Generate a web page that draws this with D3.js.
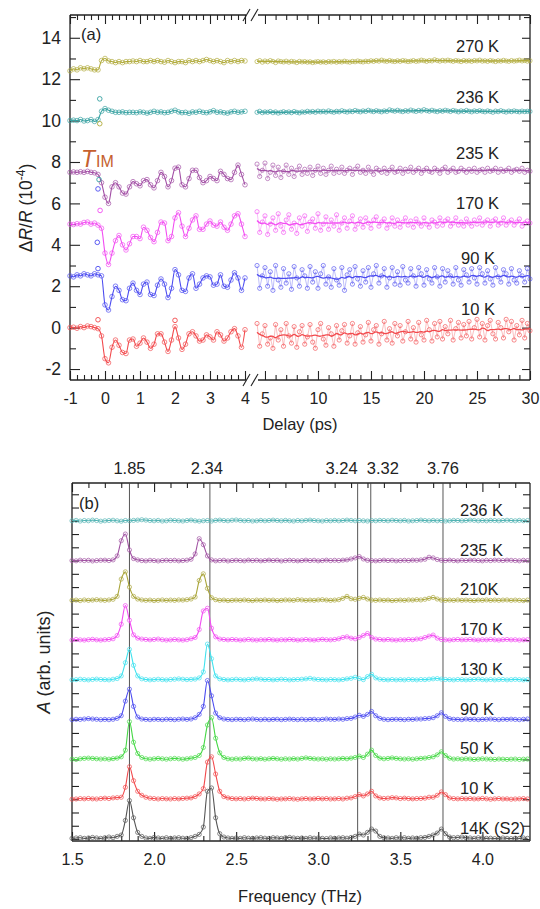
<!DOCTYPE html>
<meta charset="utf-8">
<style>
  body { margin: 0; background: #fff; }
  svg text { font-family: "Liberation Sans", Arial, sans-serif; fill: #222; }
</style>
<body>
<script src="https://cdn.jsdelivr.net/npm/d3@7"></script>
<script>

// ---------- panel (a): transient reflectivity, dR/R (1e-4) vs delay (ps) ----------
var tempsA  = ["270 K", "236 K", "235 K", "170 K", "90 K", "10 K"];
var colorsA = ["#b1ab3c", "#37a1a1", "#a24ea5", "#f24cf2", "#4b4bf0", "#f2494c"];

// early window: -1 ... 4 ps, one sample every 0.1 ps
var earlyStart = -1, earlyStep = 0.1;
var early270 = [12.4,12.5,12.45,12.55,12.5,12.55,12.5,12.45,12.45,12.9,
  13.0,12.88,12.85,12.8,12.85,12.8,12.85,12.85,12.88,12.85,
  12.9,12.85,12.85,12.9,12.85,12.9,12.85,12.82,12.9,12.85,
  12.8,12.85,12.85,12.8,12.9,12.85,12.9,12.85,12.9,12.95,
  12.9,12.85,12.9,12.85,12.8,12.9,12.85,12.9,12.85,12.9, 12.88];
var early236 = [10.0,10.02,10.0,10.05,9.98,10.0,10.05,9.96,10.05,10.45,
  10.58,10.5,10.45,10.4,10.4,10.42,10.38,10.4,10.4,10.38,
  10.42,10.4,10.36,10.4,10.45,10.4,10.42,10.38,10.4,10.45,
  10.5,10.42,10.38,10.4,10.35,10.42,10.4,10.45,10.4,10.38,
  10.42,10.48,10.4,10.42,10.38,10.36,10.42,10.45,10.4,10.42, 10.45];
var early235 = [7.5,7.52,7.5,7.53,7.5,7.55,7.5,7.48,7.4,7.0,
  6.3,6.0,6.8,7.0,6.8,6.5,6.45,6.8,7.05,6.95,
  6.85,7.1,7.15,6.9,6.75,7.1,7.5,7.3,6.8,7.1,
  7.7,7.75,6.9,6.8,7.2,7.6,7.6,7.25,7.0,7.1,
  7.3,7.2,7.1,7.55,7.4,7.2,7.15,7.5,7.85,7.4, 6.9];
var early170 = [5.0,4.98,5.02,5.0,5.08,5.1,5.0,5.05,4.95,4.8,
  3.6,3.05,3.6,4.2,4.45,4.0,3.75,4.05,4.4,4.4,
  4.3,4.85,4.7,4.35,4.15,4.6,5.1,5.05,4.2,4.4,
  5.3,5.55,4.9,4.4,4.8,5.2,5.4,4.75,4.75,5.0,
  5.15,4.95,4.9,5.1,4.85,4.7,5.0,5.4,5.5,5.0, 4.4];
var early90 = [2.5,2.45,2.55,2.5,2.6,2.55,2.5,2.6,2.55,2.5,
  1.1,0.85,1.5,2.0,1.8,1.35,1.3,1.9,2.15,1.8,
  1.6,2.1,2.2,1.6,1.55,2.05,2.35,2.1,1.45,1.9,
  2.8,2.55,1.8,1.75,2.4,2.6,1.9,2.1,2.4,2.5,
  2.45,2.05,2.1,2.55,2.0,1.95,2.3,2.65,2.4,1.8, 2.4];
var early10 = [0.0,0.02,-0.03,0.05,0.0,0.08,0.05,0.0,-0.05,-0.4,
  -1.5,-1.7,-0.95,-0.6,-0.85,-1.2,-1.25,-0.6,-0.55,-0.9,
  -0.75,-0.5,-0.7,-1.0,-0.8,-0.3,-0.3,-0.7,-1.15,-0.6,
  0.05,-0.5,-1.05,-0.8,-0.3,-0.2,-0.4,-0.65,-0.6,-0.35,
  -0.45,-0.6,-0.2,-0.35,-0.65,-0.5,-0.2,-0.05,-0.4,-0.95, -0.1];

// stray points near time zero: [series, delay, value]
var strayA = [[1,-0.15,11.05],[0,-0.15,9.85],[1,-0.17,7.15],[4,-0.2,6.7],
  [3,-0.14,5.66],[4,-0.22,4.12],[4,-0.2,2.85],[5,-0.2,0.38],[5,2.0,0.35]];

// late window: 4.25 ... 30 ps, one sample every 0.25 ps
var lateStart = 4.25, lateStep = 0.25;
var late270 = [12.85,12.9,12.82,12.88,12.84,12.9,12.86,12.8,
  12.88,12.85,12.83,12.87,12.82,12.86,12.84,12.8,
  12.86,12.83,12.85,12.82,12.84,12.8,12.83,12.85,
  12.82,12.84,12.81,12.85,12.83,12.86,12.82,12.85,
  12.83,12.87,12.84,12.82,12.86,12.84,12.88,12.85,
  12.83,12.87,12.85,12.89,12.86,12.9,12.87,12.92,
  12.88,12.86,12.9,12.87,12.85,12.89,12.86,12.9,
  12.88,12.85,12.87,12.9,12.86,12.88,12.92,12.89,
  12.86,12.9,12.88,12.94,12.9,12.87,12.91,12.88,
  12.92,12.89,12.86,12.9,12.88,12.85,12.9,12.87,
  12.89,12.86,12.9,12.88,12.92,12.87,12.89,12.86,
  12.9,12.88,12.85,12.89,12.87,12.91,12.88,12.86,
  12.9,12.87,12.89,12.92,12.88,12.9,12.87,12.89];
var late236 = [10.4,10.45,10.38,10.42,10.4,10.44,10.38,10.42,
  10.36,10.4,10.43,10.39,10.42,10.38,10.44,10.4,
  10.37,10.42,10.4,10.45,10.41,10.44,10.4,10.46,
  10.42,10.45,10.41,10.47,10.43,10.4,10.45,10.42,
  10.48,10.44,10.41,10.46,10.43,10.49,10.45,10.42,
  10.47,10.44,10.5,10.46,10.43,10.48,10.45,10.42,
  10.47,10.44,10.52,10.48,10.45,10.5,10.46,10.43,
  10.48,10.45,10.51,10.47,10.44,10.49,10.46,10.53,
  10.48,10.45,10.5,10.46,10.43,10.48,10.45,10.5,
  10.47,10.44,10.49,10.46,10.42,10.47,10.44,10.49,
  10.45,10.42,10.47,10.44,10.48,10.45,10.42,10.47,
  10.44,10.4,10.46,10.43,10.48,10.44,10.41,10.46,
  10.43,10.47,10.44,10.42,10.46,10.43,10.45,10.44];
var late235 = [7.9,7.3,7.6,7.95,7.2,7.5,7.85,7.35,
  7.75,7.25,7.55,7.85,7.4,7.7,7.3,7.6,
  7.8,7.4,7.65,7.45,7.75,7.35,7.6,7.8,
  7.45,7.7,7.4,7.6,7.8,7.45,7.65,7.5,
  7.75,7.45,7.6,7.7,7.4,7.65,7.8,7.5,
  7.6,7.45,7.75,7.55,7.4,7.7,7.6,7.5,
  7.7,7.45,7.6,7.75,7.5,7.55,7.7,7.45,
  7.65,7.55,7.75,7.5,7.6,7.7,7.45,7.6,
  7.7,7.55,7.5,7.7,7.6,7.45,7.65,7.75,
  7.5,7.6,7.7,7.5,7.55,7.7,7.6,7.5,
  7.65,7.55,7.7,7.5,7.6,7.65,7.5,7.7,
  7.55,7.6,7.7,7.5,7.65,7.55,7.6,7.7,
  7.5,7.6,7.65,7.55,7.7,7.5,7.6,7.55];
var late170 = [5.6,4.6,5.1,5.4,4.5,5.0,5.3,4.7,
  5.5,4.9,4.6,5.2,5.45,4.75,5.05,4.55,
  5.3,4.9,5.4,4.65,5.1,5.25,4.8,5.5,
  4.7,5.0,5.35,4.75,5.2,4.9,5.45,4.7,
  5.05,5.3,4.8,5.15,5.4,4.75,5.0,5.25,
  4.85,5.3,5.05,4.8,5.2,5.35,4.9,5.1,
  5.25,4.8,5.0,5.3,4.9,5.2,4.85,5.1,
  5.3,4.95,5.15,4.85,5.25,5.05,4.9,5.3,
  5.0,4.85,5.2,5.1,4.9,5.3,4.95,5.15,
  5.25,4.9,5.05,5.3,4.95,5.1,4.9,5.25,
  5.05,4.9,5.2,5.0,5.3,4.95,5.1,5.2,
  4.9,5.15,5.25,4.95,5.05,5.3,4.95,5.1,
  5.2,4.95,5.1,5.25,4.9,5.05,5.15,5.05];
var late90 = [3.0,1.9,2.5,2.9,2.0,2.7,1.8,3.0,
  2.3,1.95,2.85,2.15,2.6,1.85,2.95,2.4,
  2.0,2.8,2.5,1.9,2.95,2.2,2.7,1.9,
  2.6,3.0,2.1,2.45,1.95,2.85,2.3,2.05,
  2.9,1.8,2.55,2.8,2.1,2.95,2.35,2.0,
  2.75,2.2,2.9,1.95,2.6,3.0,2.15,2.5,
  2.85,1.95,2.4,2.9,2.1,2.7,2.05,2.95,
  2.3,2.15,2.85,2.5,2.0,2.9,2.6,2.05,
  2.8,2.35,2.15,2.9,2.45,2.0,2.85,2.2,
  2.75,2.5,2.1,2.9,2.3,2.05,2.8,2.55,
  2.2,2.85,2.4,2.1,2.9,2.6,2.15,2.75,
  2.35,2.05,2.9,2.45,2.2,2.8,2.6,2.1,
  2.85,2.3,2.15,2.75,2.5,2.2,2.85,2.35];
var late10 = [0.2,-0.9,-0.3,0.1,-0.8,-0.5,-1.0,0.15,
  -0.6,-0.1,-0.9,0.2,-0.4,-0.75,0.05,-0.95,
  -0.2,0.1,-0.8,-0.45,0.15,-0.7,-1.0,-0.1,
  0.2,-0.55,-0.85,0.0,-0.3,-0.9,0.1,-0.6,
  -0.15,0.15,-0.75,-0.4,0.2,-0.8,-0.25,0.05,
  -0.7,-0.35,0.25,-0.65,-0.1,0.1,-0.8,-0.3,
  0.3,-0.6,-0.05,-0.75,0.2,-0.4,0.1,-0.65,
  -0.2,0.3,-0.55,0.0,-0.7,0.25,-0.35,-0.6,
  0.35,-0.1,-0.65,0.2,-0.45,0.3,-0.55,0.05,
  -0.3,0.35,-0.6,-0.05,0.25,-0.5,0.15,-0.4,
  0.3,-0.55,0.0,0.4,-0.45,0.2,-0.6,0.1,
  0.35,-0.3,-0.55,0.25,0.0,-0.5,0.4,-0.2,
  0.3,-0.6,0.1,-0.35,0.35,-0.5,0.2,-0.15];

var earlyA = [early270, early236, early235, early170, early90, early10];
var lateA  = [late270, late236, late235, late170, late90, late10];

// ---------- panel (b): Fourier amplitude vs frequency (THz) ----------
var tempsB  = ["236 K", "235 K", "210K", "170 K", "130 K", "90 K", "50 K", "10 K", "14K (S2)"];
var colorsB = ["#52b3b3", "#a052a2", "#a9a53a", "#f24cf2", "#3fe2ee", "#4b4bf0", "#45d845", "#f2494c", "#555555"];
var modeFreqs = [1.85, 2.34, 3.24, 3.32, 3.76];

// one sample every 0.025 THz from 1.5 THz
var freqStart = 1.5, freqStep = 0.025;
var spec236 = [0,0.03,-0.02,0.02,0,0.05,0.02,-0.03, 0,0.02,0.04,0,-0.03,0.02,0,0.03,
  0.05,0.08,0.05,0.02,0,0.03,-0.02,0, 0.04,0.02,0,-0.02,0.02,0.05,0,-0.03,
  0,0.02,-0.02,0.03,0.05,0.02,0,0.04, 0.06,0.03,0,0.02,-0.02,0,0.03,0,
  0.02,0.05,0.02,0,0.03,0,-0.02,0.02, 0,0.03,0.05,0.02,0,-0.02,0.02,0,
  0.03,0,0.02,0.05,0.03,0,0.02,0, -0.02,0.02,0,0.03,0.02,0,0.04,0.02,
  0,0.03,-0.02,0,0.02,0.05,0.02,0, 0.03,0,0.02,-0.02,0,0.03,0.02,0,
  0.02,0.05,0.03,0,0.02,0,0.03,0.02, 0,0.02,0.04,0.02,0,0.03,0,0.02];
var spec235 = [0,-0.02,0.03,0,0.02,-0.03,0,0.02, 0.03,0,0.05,0.35,1.5,2.0,0.8,0.15,
  0.05,0,-0.02,0.02,0,-0.03,0,0.02, 0,0.02,-0.02,0,0.03,0.1,0.5,1.65,
  1.2,0.35,0.05,-0.02,0,0.02,-0.03,0, 0.02,0,-0.02,0.03,0,0.02,-0.02,0,
  0.03,0,0.02,-0.03,0,0.02,0,-0.02, 0,0.03,0,0.02,-0.02,0,0.03,0,
  0.02,0,0.03,0.05,0.12,0.2,0.3,0.12, 0.02,0,-0.02,0,0.03,0,0.02,-0.02,
  0,0.02,0,0.03,0.02,0.05,0.1,0.25, 0.2,0.08,0.02,0,0.03,0,-0.02,0.02,
  0,0.03,0.02,0,-0.02,0.02,0,0.03, 0.02,0,0.03,0.02,0,-0.02,0.02,0];
var spec210 = [0,0.02,-0.02,0.03,0,0.02,0.05,0.02, 0,0.03,0.08,0.3,1.6,2.15,1.0,0.3,
  0.1,0.03,0,0.02,-0.02,0,0.03,0, 0.02,0,0.03,0.02,0.05,0.1,0.25,1.5,
  2.0,0.9,0.2,0.05,0,0.02,-0.02,0, 0.02,0,0.03,0,-0.02,0.02,0,0.03,
  0,0.02,-0.02,0,0.03,0.02,0,0.05, 0.03,0,0.02,0,0.03,0.05,0.02,0,
  0.02,0.05,0.15,0.3,0.12,0.08,0.15,0.22, 0.1,0.02,0,0.03,0,0.02,-0.02,0,
  0.02,0,0.03,0.02,0.05,0.03,0.08,0.15, 0.22,0.1,0.02,0,0.02,0,0.03,0,
  0.02,0,-0.02,0.02,0,0.03,0,0.02, 0,0.02,0.03,0,0.02,0,-0.02,0.02];
var spec170 = [0,0.05,0.02,0,0.03,0.06,0.02,0, 0.03,0.05,0.1,0.35,1.2,2.6,1.5,0.4,
  0.15,0.08,0.05,0.02,0.05,0.08,0.03,0, 0.02,0.05,0.02,0,0.03,0.1,0.2,0.8,
  2.2,2.4,0.9,0.25,0.08,0.05,0.02,0.05, 0.03,0,0.02,0.05,0.02,0,0.03,0.02,
  0.05,0.02,0,0.03,0.02,0.05,0.03,0, 0.02,0.05,0.02,0,0.03,0.06,0.03,0.02,
  0.05,0.1,0.2,0.25,0.15,0.1,0.2,0.35, 0.5,0.2,0.08,0.05,0.02,0.05,0.02,0,
  0.03,0.02,0.05,0.03,0.08,0.1,0.2,0.3, 0.38,0.15,0.05,0.02,0,0.03,0.05,0.02,
  0.03,0.05,0.02,0,0.03,0.02,0.05,0.02, 0,0.03,0.05,0.02,0.03,0,0.02,0.03];
var spec130 = [0,0.02,0.05,0.02,0,0.03,0.06,0.03, 0.02,0,0.05,0.1,0.3,1.3,2.3,1.1,
  0.3,0.08,0.03,0,0.02,0.05,0.02,0, 0.03,0.05,0.08,0.05,0.02,0.04,0.06,0.15,
  0.6,2.7,1.6,0.3,0.08,0.03,0,0.02, 0.05,0.02,0,0.03,0.05,0.08,0.05,0.02,
  0.03,0,0.02,0.05,0.03,0,0.02,0.03, 0.05,0.08,0.12,0.06,0.03,0.02,0,0.03,
  0.02,0,0.03,0.08,0.12,0.2,0.1,0.02, 0.25,0.42,0.15,0.05,0.02,0,0.03,0,
  0.02,0,0.03,0.02,0,0.03,0.02,0.05, 0.08,0.1,0.06,0.03,0.02,0,0.03,0.02,
  0,0.02,0.03,0.05,0.02,0,0.03,0, 0.02,0.03,0,0.02,0.04,0.02,0,0.02];
var spec90 = [0,0.03,0.02,0.05,0.08,0.05,0.03,0, 0.02,0,0.03,0.1,0.3,1.4,2.3,1.0,
  0.2,0.05,0.02,0,0.03,0.02,0,0.03, 0.02,0,0.03,0.05,0.02,0.05,0.15,0.4,
  1.0,2.95,1.8,0.5,0.15,0.05,0.02,0, 0.03,0.02,0,0.03,0.05,0.02,0,0.03,
  0,0.02,0.03,0,0.02,0.04,0.02,0, 0.03,0,0.02,0.03,0,0.02,0.05,0.03,
  0.02,0.05,0.03,0.08,0.1,0.2,0.33,0.25, 0.4,0.62,0.3,0.1,0.03,0,0.02,0.03,
  0.02,0,0.03,0.02,0.05,0.05,0.08,0.1, 0.15,0.3,0.52,0.25,0.08,0.03,0.02,0,
  0.05,0.02,0.03,0,0.02,0.03,0.05,0.02, 0,0.03,0.02,0.04,0.02,0,0.03,0.05];
var spec50 = [0.02,0,0.05,0.08,0.1,0.08,0.05,0.03, 0.05,0.02,0.06,0.1,0.2,0.7,2.85,1.3,
  0.45,0.15,0.05,0.02,0.05,0.08,0.05,0.02, 0.05,0.08,0.05,0.02,0.05,0.1,0.15,0.3,
  0.9,2.6,3.15,1.6,0.5,0.15,0.05,0.02, 0.05,0.03,0.08,0.1,0.05,0.03,0.06,0.02,
  0.05,0.08,0.05,0.02,0.05,0.03,0.06,0.03, 0.08,0.12,0.08,0.05,0.03,0.05,0.02,0.05,
  0.03,0.05,0.08,0.05,0.1,0.15,0.25,0.15, 0.4,0.7,0.3,0.1,0.05,0.08,0.12,0.08,
  0.05,0.03,0.05,0.02,0.05,0.08,0.1,0.15, 0.2,0.35,0.58,0.3,0.1,0.03,0.05,0.02,
  0.05,0.03,0,0.02,0.05,0.03,0.02,0, 0.03,0.02,0,0.02,0.03,0,0.02,0.03];
var spec10 = [0,0.02,0.05,0.03,0.06,0.03,0.02,0.05, 0.08,0.05,0.1,0.12,0.15,0.9,2.45,1.4,
  0.6,0.3,0.15,0.08,0.05,0.02,0.05,0.03, 0.02,0.05,0.03,0.06,0.08,0.1,0.2,0.4,
  0.8,2.8,3.2,1.9,0.6,0.2,0.1,0.05, 0.03,0.05,0.02,0.05,0.08,0.06,0.03,0.02,
  0.05,0.03,0,0.02,0.03,0.05,0.02,0, 0.03,0.05,0.02,0.03,0.06,0.03,0.05,0.02,
  0.03,0.05,0.02,0.08,0.1,0.2,0.35,0.25, 0.4,0.6,0.25,0.1,0.06,0.08,0.12,0.1,
  0.05,0.08,0.05,0.03,0.05,0.06,0.08,0.15, 0.15,0.3,0.55,0.35,0.1,0.05,0.03,0.05,
  0.03,0.05,0.02,0.03,0.06,0.03,0,0.03, 0.05,0.02,0.03,0,0.02,0.03,0.05,0.02];
var spec14S2 = [0.05,0.08,0.1,0.05,0.08,0.12,0.08,0.05, 0.1,0.15,0.1,0.2,0.3,1.4,2.9,1.6,
  0.5,0.2,0.08,0.05,0.12,0.08,0.05,0.1, 0.05,0.08,0.1,0.06,0.05,0.1,0.2,0.35,
  0.9,3.6,3.85,1.6,0.4,0.15,0.08,0.05, 0.08,0.05,0.1,0.06,0.05,0.08,0.1,0.06,
  0.05,0.1,0.08,0.05,0.1,0.12,0.08,0.05, 0.08,0.05,0.1,0.06,0.08,0.05,0.03,0.08,
  0.05,0.08,0.1,0.06,0.12,0.2,0.37,0.3, 0.5,0.75,0.6,0.2,0.1,0.08,0.05,0.1,
  0.08,0.1,0.05,0.08,0.06,0.1,0.12,0.2, 0.3,0.45,0.75,0.4,0.15,0.1,0.12,0.15,
  0.1,0.08,0.05,0.1,0.08,0.05,0.06,0.03, 0.05,0.08,0.05,0.03,0.06,0.05,0.08,0.05];

var specB = [spec236, spec235, spec210, spec170, spec130, spec90, spec50, spec10, spec14S2];


var svg = d3.select("body").append("svg").attr("width", 540).attr("height", 909);

function axisGroup(g, axis, tf, fs) {
  var a = g.append("g").attr("transform", tf).call(axis)
    .attr("color", "#222").attr("font-size", fs || 16);
  a.select(".domain").remove();
  a.selectAll(".tick line").attr("stroke-width", 1.1);
  return a;
}
function stepRange(a, b, s) {
  return d3.range(Math.round(a / s), Math.round(b / s) + 1).map(function(k) { return +(k * s).toFixed(3); });
}
function seg(g, x1, y1, x2, y2, w) {
  g.append("line").attr("x1", x1).attr("y1", y1).attr("x2", x2).attr("y2", y2)
    .attr("stroke", "#222").attr("stroke-width", w || 1.3);
}

// ================= panel (a) =================
var xE = d3.scaleLinear().domain([-1, 4.1]).range([70, 248.5]);
var xL = d3.scaleLinear().domain([4.2, 30]).range([256.5, 530]);
var yA = d3.scaleLinear().domain([-2.53, 15.1]).range([380, 15]);
var gA = svg.append("g");

var eMaj = [-1, 0, 1, 2, 3, 4];
var eMin = stepRange(-1, 4, 0.2).filter(function(d) { return eMaj.indexOf(d) < 0; });
var lMaj = [5, 10, 15, 20, 25, 30];
var lMin = d3.range(5, 31).filter(function(d) { return d % 5; });
var fmt = function(d) { return String(d); };

[[xE, eMaj, eMin], [xL, lMaj, lMin]].forEach(function(s) {
  axisGroup(gA, d3.axisBottom(s[0]).tickValues(s[1]).tickSize(-9).tickPadding(13).tickFormat(fmt), "translate(0,380)");
  axisGroup(gA, d3.axisBottom(s[0]).tickValues(s[2]).tickSize(-5).tickFormat(""), "translate(0,380)");
  axisGroup(gA, d3.axisTop(s[0]).tickValues(s[1]).tickSize(-9).tickFormat(""), "translate(0,15)");
  axisGroup(gA, d3.axisTop(s[0]).tickValues(s[2]).tickSize(-5).tickFormat(""), "translate(0,15)");
});
axisGroup(gA, d3.axisLeft(yA).tickValues(d3.range(-2, 15, 2)).tickSize(-10).tickPadding(9).tickFormat(fmt), "translate(70,0)", 17.5);
axisGroup(gA, d3.axisLeft(yA).tickValues(d3.range(-1, 16, 2)).tickSize(-6).tickFormat(""), "translate(70,0)");
axisGroup(gA, d3.axisRight(yA).tickValues(d3.range(-2, 15, 2)).tickSize(-8).tickFormat(""), "translate(530,0)");
axisGroup(gA, d3.axisRight(yA).tickValues(d3.range(-1, 16, 2)).tickSize(-6).tickFormat(""), "translate(530,0)");

// frame with axis break
seg(gA, 70, 15, 70, 380); seg(gA, 530, 15, 530, 380);
[380, 15].forEach(function(y) {
  seg(gA, 70, y, 246, y); seg(gA, 258, y, 530, y);
  seg(gA, 243, y + 6, 250, y - 6, 1.1); seg(gA, 251, y + 6, 258, y - 6, 1.1);
});

var lineE = d3.line().x(function(d) { return xE(d[0]); }).y(function(d) { return yA(d[1]); }).curve(d3.curveMonotoneX);
var lineL = d3.line().x(function(d) { return xL(d[0]); }).y(function(d) { return yA(d[1]); });

earlyA.forEach(function(vals, k) {
  var pts = vals.map(function(v, i) { return [earlyStart + i * earlyStep, v]; });
  var g = gA.append("g").attr("stroke", colorsA[k]).attr("fill", "none");
  g.append("path").attr("d", lineE(pts)).attr("stroke-width", 1.1);
  g.selectAll("circle").data(pts).enter().append("circle")
    .attr("cx", function(d) { return xE(d[0]); }).attr("cy", function(d) { return yA(d[1]); })
    .attr("r", 2.3).attr("stroke-width", 0.8).attr("opacity", 0.85);
});
lateA.forEach(function(vals, k) {
  var pts = vals.map(function(v, i) { return [lateStart + i * lateStep, v]; });
  // smoothed guide line through the noisy late-time points
  var smooth = pts.map(function(p, i) {
    return [p[0], d3.mean(vals.slice(Math.max(0, i - 3), i + 4))];
  });
  var g = gA.append("g").attr("stroke", colorsA[k]).attr("fill", "none");
  g.append("path").attr("d", lineL(pts)).attr("stroke-width", 0.6).attr("opacity", 0.6);
  g.selectAll("circle").data(pts).enter().append("circle")
    .attr("cx", function(d) { return xL(d[0]); }).attr("cy", function(d) { return yA(d[1]); })
    .attr("r", 2.1).attr("stroke-width", 0.8).attr("opacity", 0.8);
  g.append("path").attr("d", lineL.curve(d3.curveBasis)(smooth)).attr("stroke-width", 1.3);
  lineL.curve(d3.curveLinear);
});
gA.selectAll(".stray").data(strayA).enter().append("circle")
  .attr("cx", function(d) { return xE(d[1]); }).attr("cy", function(d) { return yA(d[2]); })
  .attr("r", 2.3).attr("fill", "none").attr("stroke-width", 0.9)
  .attr("stroke", function(d) { return colorsA[d[0]]; });

var labelLevelA = [13.3, 10.85, 8.15, 5.75, 3.05, 0.6];
gA.selectAll(".tlab").data(tempsA).enter().append("text")
  .attr("x", function(d) { return d.length > 4 ? 456 : 461; })
  .attr("y", function(d, i) { return yA(labelLevelA[i]); })
  .attr("font-size", 16.5).text(function(d) { return d; });

gA.append("text").attr("x", 81).attr("y", 40).attr("font-size", 16.5).text("(a)");
var tim = gA.append("text").attr("x", 81).attr("y", 167).style("fill", "#c5602e");
tim.append("tspan").attr("font-size", 23).attr("font-style", "italic").style("fill", "#c5602e").text("T");
tim.append("tspan").attr("font-size", 16).attr("dx", 1).style("fill", "#c5602e").text("IM");

var ylA = gA.append("text").attr("transform", "translate(32,208) rotate(-90)")
  .attr("text-anchor", "middle").attr("font-size", 17.5);
ylA.append("tspan").text("Δ");
ylA.append("tspan").attr("font-style", "italic").text("R");
ylA.append("tspan").text("/");
ylA.append("tspan").attr("font-style", "italic").text("R");
ylA.append("tspan").text(" (10");
ylA.append("tspan").attr("font-size", 12).attr("dy", -7).text("-4");
ylA.append("tspan").attr("dy", 7).text(")");

gA.append("text").attr("x", 300).attr("y", 430).attr("text-anchor", "middle")
  .attr("font-size", 16.5).text("Delay (ps)");

// ================= panel (b) =================
var xB = d3.scaleLinear().domain([1.5, 4.29]).range([72, 530]);
var yB = d3.scaleLinear().domain([-0.15, 26.85]).range([841, 483]);
var gB = svg.append("g");

var fMaj = [1.5, 2.0, 2.5, 3.0, 3.5, 4.0];
var fMin = stepRange(1.5, 4.2, 0.1).filter(function(d) { return fMaj.indexOf(d) < 0; });
axisGroup(gB, d3.axisBottom(xB).tickValues(fMaj).tickSize(-9).tickPadding(13).tickFormat(d3.format(".1f")), "translate(0,841)");
axisGroup(gB, d3.axisBottom(xB).tickValues(fMin).tickSize(-5).tickFormat(""), "translate(0,841)");
axisGroup(gB, d3.axisTop(xB).tickValues(fMaj).tickSize(-9).tickFormat(""), "translate(0,483)");
axisGroup(gB, d3.axisTop(xB).tickValues(fMin).tickSize(-5).tickFormat(""), "translate(0,483)");
axisGroup(gB, d3.axisLeft(yB).tickValues(d3.range(0, 27)).tickSize(-7).tickFormat(""), "translate(72,0)");
axisGroup(gB, d3.axisRight(yB).tickValues(d3.range(0, 27)).tickSize(-7).tickFormat(""), "translate(530,0)");
seg(gB, 72, 483, 530, 483); seg(gB, 72, 841, 530, 841);
seg(gB, 72, 483, 72, 841); seg(gB, 530, 483, 530, 841);

// mode frequency markers
var modeAnchor = ["middle", "middle", "end", "start", "middle"];
var modeDx = [0, -3, 0, -4, 0];
gB.selectAll(".mode").data(modeFreqs).enter().append("line")
  .attr("x1", function(d) { return xB(d); }).attr("x2", function(d) { return xB(d); })
  .attr("y1", 483).attr("y2", 841).attr("stroke", "#444").attr("stroke-width", 0.9);
gB.selectAll(".modelab").data(modeFreqs).enter().append("text")
  .attr("x", function(d, i) { return xB(d) + modeDx[i]; }).attr("y", 474)
  .attr("text-anchor", function(d, i) { return modeAnchor[i]; })
  .attr("font-size", 16.5).text(function(d) { return d.toFixed(2); });

var lineB = d3.line().x(function(d) { return xB(d[0]); }).y(function(d) { return yB(d[1]); }).curve(d3.curveMonotoneX);
specB.forEach(function(vals, k) {
  var off = 3 * (specB.length - 1 - k);
  var pts = vals.map(function(v, i) { return [freqStart + i * freqStep, v + off]; });
  var g = gB.append("g").attr("stroke", colorsB[k]).attr("fill", "none");
  g.append("path").attr("d", lineB(pts)).attr("stroke-width", 1.1);
  g.selectAll("circle").data(pts).enter().append("circle")
    .attr("cx", function(d) { return xB(d[0]); }).attr("cy", function(d) { return yB(d[1]); })
    .attr("r", 2.1).attr("stroke-width", 0.8).attr("opacity", 0.85);
  gB.append("text").attr("x", 460).attr("y", yB(off) - 5)
    .attr("font-size", 16.5).text(tempsB[k]);
});

gB.append("text").attr("x", 79).attr("y", 509).attr("font-size", 16.5).text("(b)");
var ylB = gB.append("text").attr("transform", "translate(50,662) rotate(-90)")
  .attr("text-anchor", "middle").attr("font-size", 18);
ylB.append("tspan").attr("font-style", "italic").text("A");
ylB.append("tspan").text(" (arb. units)");
gB.append("text").attr("x", 300).attr("y", 902).attr("text-anchor", "middle")
  .attr("font-size", 16.5).text("Frequency (THz)");

</script>
</body>
